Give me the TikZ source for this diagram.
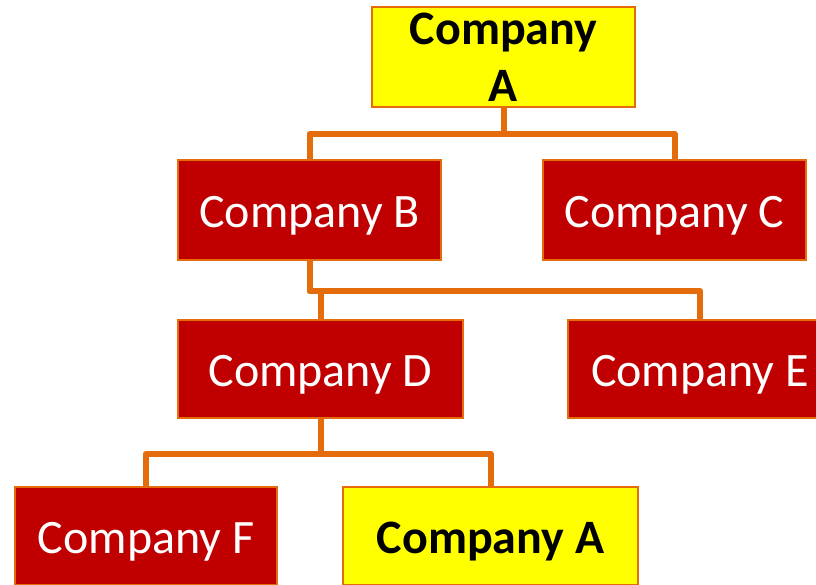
\documentclass[tikz,border=0pt]{standalone}
\usepackage{fontspec}
\setmainfont{Carlito}
\definecolor{boxred}{HTML}{C00000}
\definecolor{boxyellow}{HTML}{FFFF00}
\definecolor{linkorange}{HTML}{E46C0A}
\tikzset{
  company/.style={draw=linkorange, line width=1.5pt, inner sep=0pt,
    font=\fontsize{48}{57}\selectfont, align=center},
  subsidiary/.style={company, fill=boxred, text=white,
    text height=34pt, text depth=0pt},
  target/.style={company, fill=boxyellow, text=black,
    font=\fontsize{48}{57}\selectfont\bfseries},
  link/.style={draw=linkorange, line width=6pt, line join=round}
}
\begin{document}
\begin{tikzpicture}[x=1pt, y=-1pt]
\useasboundingbox (0,0) rectangle (816,584);
\begin{scope}
\clip (0,0) rectangle (816,584);
% holding company at the top
\node[target, minimum width=263pt, minimum height=100pt] (topA) at (503.5,57) {Company\\A};
% first tier
\node[subsidiary, minimum width=263pt, minimum height=100pt] (B) at (309.5,210) {Company B};
\node[subsidiary, minimum width=263pt, minimum height=100pt] (C) at (674.5,210) {Company C};
% second tier
\node[subsidiary, minimum width=285pt, minimum height=98pt] (D) at (320.5,369) {Company D};
\node[subsidiary, minimum width=264pt, minimum height=98pt] (E) at (700,369) {Company E};
% third tier
\node[subsidiary, minimum width=262pt, minimum height=98pt] (F) at (146,536) {Company F};
\node[target, minimum width=295pt, minimum height=98pt, text height=34pt, text depth=0pt] (botA) at (490.5,536) {Company A};
% ownership links
\draw[link] (topA.south) -- ++(0,26) -| (B.north);
\draw[link] (topA.south) -- ++(0,26) -| (C.north);
\draw[link] (B.south) -- ++(0,30) -| (D.north);
\draw[link] (B.south) -- ++(0,30) -| (E.north);
\draw[link] (D.south) -- ++(0,35) -| (F.north);
\draw[link] (D.south) -- ++(0,35) -| (botA.north);
\end{scope}
\end{tikzpicture}
\end{document}
